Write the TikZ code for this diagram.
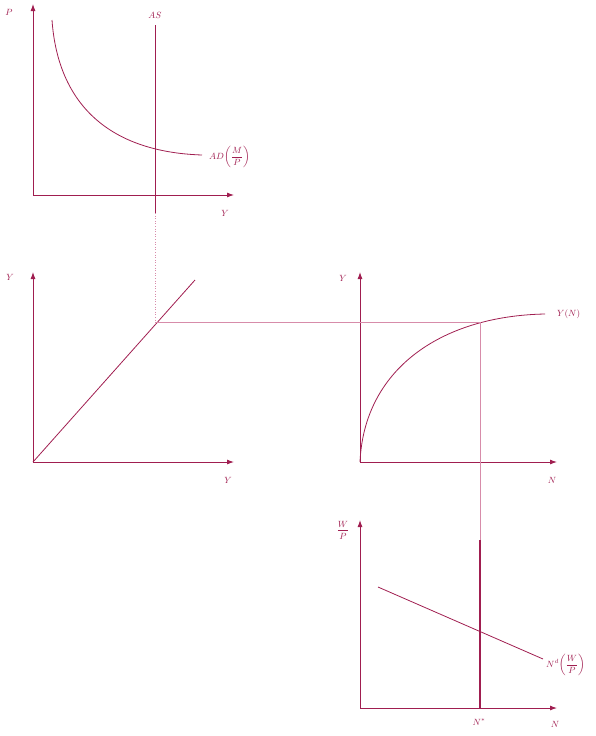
\documentclass[tikz,border=0pt]{standalone}
\usepackage{amsmath}
\usetikzlibrary{arrows.meta}
\definecolor{ink}{RGB}{160,30,80}
\definecolor{guide}{RGB}{215,140,170}
\begin{document}
\begin{tikzpicture}[x=1pt,y=-1pt,
  axis/.style={draw=ink,line width=0.9pt,-{Latex[length=7pt,width=5pt]}},
  curve/.style={draw=ink,line width=0.8pt},
  guideline/.style={draw=guide,line width=0.6pt},
  lbl/.style={text=ink,font=\small,inner sep=1pt}]
\useasboundingbox (0,0) rectangle (595,736);
% ---------- panel 1 : AD-AS
\coordinate (o1) at (33,195);
\coordinate (t1) at (33,4);
\coordinate (r1) at (234,195);
\draw[axis] (o1) -- (t1);
\draw[axis] (o1) -- (r1);
\node[lbl] (p1) at (9,12) {$P$};
\node[lbl] (y1) at (225,213) {$Y$};
\coordinate (asT) at (155,25);
\coordinate (asB) at (155,213);
\draw[curve] (asT) -- (asB);
\node[lbl] (asl) at (155,15) {$AS$};
\coordinate (adS) at (52,20);
\coordinate (adE) at (202,155);
\draw[curve] (adS) .. controls (58,105) and (110,152) .. (adE);
\node[lbl,anchor=west] (adl) at (208,157) {$AD\!\left(\dfrac{M}{P}\right)$};
% ---------- panel 2 : 45 degree line
\coordinate (o2) at (33,462);
\coordinate (t2) at (33,272);
\coordinate (r2) at (234,462);
\draw[axis] (o2) -- (t2);
\draw[axis] (o2) -- (r2);
\node[lbl] (y2a) at (10,277) {$Y$};
\node[lbl] (y2b) at (228,480) {$Y$};
\coordinate (d45) at (195,280);
\draw[curve] (o2) -- (d45);
\coordinate (x45) at (155,322);
\draw[guideline,dotted] (asB) -- (x45);
% ---------- panel 3 : production function
\coordinate (o3) at (360,462);
\coordinate (t3) at (360,272);
\coordinate (r3) at (557,462);
\draw[axis] (o3) -- (t3);
\draw[axis] (o3) -- (r3);
\node[lbl] (y3) at (343,278) {$Y$};
\node[lbl] (n3) at (552,480) {$N$};
\coordinate (ynE) at (545,314);
\draw[curve] (o3) .. controls (364,370) and (440,316) .. (ynE);
\node[lbl,anchor=west] (ynl) at (556,314) {$Y(N)$};
\coordinate (xy) at (480,322);
\draw[guideline] (x45) -- (xy);
\coordinate (nsT) at (480,540);
\draw[guideline] (xy) -- (nsT);
% ---------- panel 4 : labour market
\coordinate (o4) at (360,708);
\coordinate (t4) at (360,520);
\coordinate (r4) at (557,708);
\draw[axis] (o4) -- (t4);
\draw[axis] (o4) -- (r4);
\node[lbl] (wp) at (343,530) {$\dfrac{W}{P}$};
\node[lbl] (n4) at (555,724) {$N$};
\coordinate (ndS) at (378,587);
\coordinate (ndE) at (543,659);
\draw[curve] (ndS) -- (ndE);
\node[lbl,anchor=west] (ndl) at (545,665) {$N^d\!\left(\dfrac{W}{P}\right)$};
\coordinate (nsB) at (480,708);
\draw[draw=ink,line width=1.8pt] (nsT) -- (nsB);
\node[lbl] (nstar) at (479,722) {$N^{*}$};
\end{tikzpicture}
\end{document}
